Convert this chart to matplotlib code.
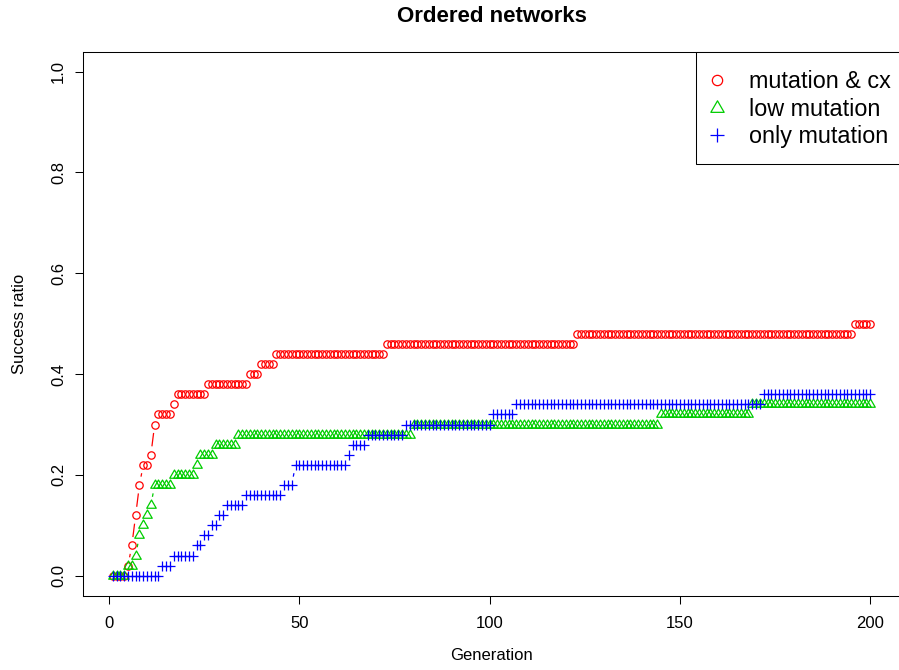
import numpy as np
import matplotlib
matplotlib.use("Agg")
import matplotlib.pyplot as plt
from matplotlib.path import Path
from matplotlib.lines import Line2D
from matplotlib.patches import Rectangle
from matplotlib.collections import LineCollection

plt.rcParams['font.family'] = ['Liberation Sans', 'DejaVu Sans']

# success ratio per step and the last generation of that step
cx_levels = [0.0, 0.02, 0.06, 0.12, 0.18, 0.22, 0.24, 0.30, 0.32, 0.34, 0.36,
             0.38, 0.40, 0.42, 0.44, 0.46, 0.48, 0.50]
cx_ends = [4, 5, 6, 7, 8, 10, 11, 12, 16, 17, 25, 36, 39, 43, 72, 122, 195, 200]

low_levels = [0.0, 0.02, 0.04, 0.08, 0.10, 0.12, 0.14, 0.18, 0.20, 0.22, 0.24,
              0.26, 0.28, 0.30, 0.32, 0.34]
low_ends = [4, 6, 7, 8, 9, 10, 11, 16, 22, 23, 27, 33, 79, 144, 168, 200]

mut_levels = [0.0, 0.02, 0.04, 0.06, 0.08, 0.10, 0.12, 0.14, 0.16, 0.18, 0.22,
              0.24, 0.26, 0.28, 0.30, 0.32, 0.34, 0.36]
mut_ends = [13, 16, 22, 24, 26, 28, 30, 35, 45, 48, 62, 63, 67, 77, 100, 106, 171, 200]

labels = ["mutation & cx", "low mutation", "only mutation"]
colors = ["#FF0000", "#00CD00", "#0000FF"]

# R style pch=2 triangle
tri = Path([(0, 1.555), (1.347, -0.778), (-1.347, -0.778), (0, 1.555)],
           [Path.MOVETO, Path.LINETO, Path.LINETO, Path.CLOSEPOLY])
markers = ["o", tri, "+"]
msizes = [5.3, 7.9, 7.2]
W, H = 899, 670


def expand(levels, ends):
    counts = np.diff([0] + ends)
    return np.arange(1, ends[-1] + 1), np.repeat(levels, counts)


def gapped_segments(ax, x, y, gap_px):
    # type="b": line pieces between points, cut back near each point
    pts = ax.transData.transform(np.column_stack([x, y]))
    inv = ax.transData.inverted()
    segs = []
    for p0, p1 in zip(pts[:-1], pts[1:]):
        d = np.hypot(*(p1 - p0))
        if d > 2 * gap_px:
            u = (p1 - p0) / d
            segs.append(inv.transform(np.array([p0 + u * gap_px, p1 - u * gap_px])))
    return segs


fig = plt.figure(figsize=(W / 100, H / 100), dpi=100)
ax = fig.add_axes([82.5 / W, (H - 595.9) / H, (900.6 - 82.5) / W, (595.9 - 51.5) / H])
ax.set_xlim(-6.96, 207.96)
ax.set_ylim(-0.04, 1.04)

series = [(cx_levels, cx_ends), (low_levels, low_ends), (mut_levels, mut_ends)]
for (lev, ends), col, mk, ms in zip(series, colors, markers, msizes):
    x, y = expand(lev, ends)
    segs = gapped_segments(ax, x, y, 8.5)
    ax.add_collection(LineCollection(segs, colors=col, linewidths=0.9))
    ax.plot(x, y, linestyle="none", marker=mk, markersize=ms, markerfacecolor="none",
            markeredgecolor=col, markeredgewidth=0.9)

ax.set_xticks([0, 50, 100, 150, 200])
ax.set_yticks([0.0, 0.2, 0.4, 0.6, 0.8, 1.0])
ax.set_yticklabels(["0.0", "0.2", "0.4", "0.6", "0.8", "1.0"], rotation=90, va="center")
ax.tick_params(direction="out", length=5.8, width=0.75, labelsize=12, color="black")
ax.tick_params(axis="x", pad=8.5)
ax.tick_params(axis="y", pad=6)
for sp in ax.spines.values():
    sp.set_linewidth(0.75)
    sp.set_color("black")

# legend box drawn by hand, entries placed inside it
fig.patches.append(Rectangle((696 / W, (H - 164) / H), (900.6 - 696) / W, (164 - 51.7) / H,
                             transform=fig.transFigure, fill=True, facecolor="white",
                             edgecolor="black", linewidth=0.75, zorder=5))
handles = [Line2D([], [], linestyle="none", marker=mk, markersize=ms * 1.4, markerfacecolor="none",
                  markeredgecolor=col, markeredgewidth=0.9)
           for col, mk, ms in zip(colors, markers, msizes)]
leg = fig.legend(handles, labels, loc="upper left", bbox_to_anchor=(711.2 / W, 1 - 70.5 / H),
                 bbox_transform=fig.transFigure, frameon=False, borderpad=0, borderaxespad=0,
                 fontsize=16.8, handlelength=0.5, handletextpad=1.12, labelspacing=0.19,
                 numpoints=1)
leg.set_zorder(6)

fig.text(491.5 / W, 1 - 17 / H, "Ordered networks", ha="center", va="center",
         fontsize=16, fontweight="bold")
fig.text(491.5 / W, 1 - 656 / H, "Generation", ha="center", va="center", fontsize=12)
fig.text(20 / W, 1 - 323.7 / H, "Success ratio", ha="center", va="center",
         rotation=90, fontsize=12)

fig.savefig("out.png", dpi=100)
